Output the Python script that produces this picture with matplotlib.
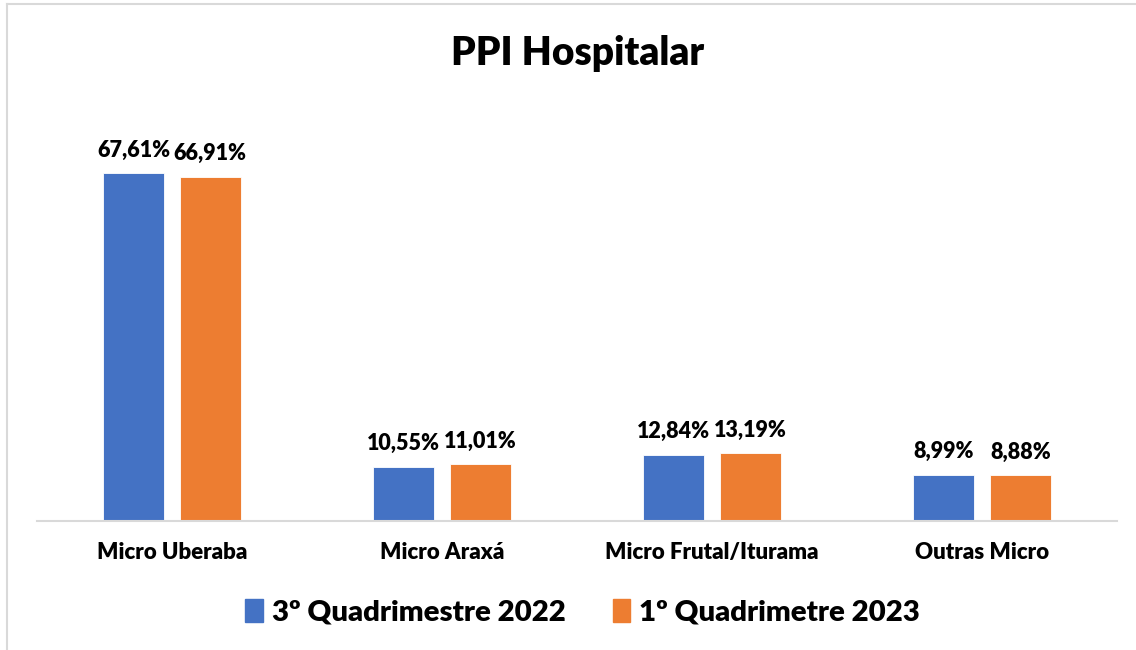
import matplotlib.pyplot as plt
import matplotlib.patches as mpatches
import numpy as np

categories = ['Micro Uberaba', 'Micro Araxá', 'Micro Frutal/Iturama', 'Outras Micro']
series_names = ['3º Quadrimestre 2022', '1º Quadrimetre 2023']
q3_2022 = [67.61, 10.55, 12.84, 8.99]
q1_2023 = [66.91, 11.01, 13.19, 8.88]
colors = ['#4472C4', '#ED7D31']

plt.rcParams['font.family'] = ['Lato', 'DejaVu Sans']
W = 'heavy'

fig = plt.figure(figsize=(11.36, 6.5), dpi=100)
ax = fig.add_axes([0.0326, 0.1985, 0.9507, 0.6477])

x = np.arange(len(categories))
width = 0.226
offset = 0.1417

for vals, color, dx in [(q3_2022, colors[0], -offset), (q1_2023, colors[1], offset)]:
    bars = ax.bar(x + dx, vals, width, color=color, edgecolor='white', linewidth=0.6)
    for b, v in zip(bars, vals):
        ax.annotate(f"{v:.2f}%".replace('.', ','),
                    (b.get_x() + b.get_width() / 2, b.get_height()),
                    xytext=(0, 9), textcoords='offset points',
                    ha='center', va='bottom', fontsize=15.5, fontweight=W)

ax.set_xlim(-0.5, 3.5)
ax.set_ylim(0, 81.8)
ax.set_yticks([])
ax.set_xticks(x)
ax.set_xticklabels(categories, fontsize=16, fontweight=W)
ax.tick_params(axis='x', length=0, pad=15)
for s in ['top', 'right', 'left']:
    ax.spines[s].set_visible(False)
ax.spines['bottom'].set_color('#D9D9D9')
ax.spines['bottom'].set_linewidth(1.5)

fig.text(0.508, 0.918, 'PPI Hospitalar', ha='center', va='center',
         fontsize=28, fontweight=W)

handles = [mpatches.Patch(color=c, label=n) for c, n in zip(colors, series_names)]
fig.legend(handles=handles, loc='center', bbox_to_anchor=(0.513, 0.058), ncol=2,
           frameon=False, prop={'size': 21.2, 'weight': W},
           handlelength=0.6, handleheight=0.8, handletextpad=0.3, columnspacing=1.6)

# chart border (left and top visible in the crop)
fig.add_artist(plt.Line2D([0.0066, 0.0066], [0, 0.994], color='#D9D9D9', lw=1.5,
                          transform=fig.transFigure))
fig.add_artist(plt.Line2D([0.0066, 1], [0.994, 0.994], color='#D9D9D9', lw=1.5,
                          transform=fig.transFigure))

fig.savefig('out.png', dpi=100)
